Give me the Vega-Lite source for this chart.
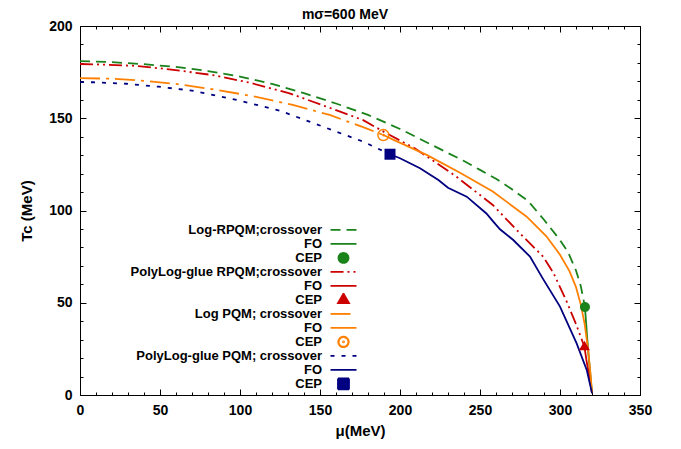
{
  "$schema": "https://vega.github.io/schema/vega-lite/v6.json",
  "width": 560,
  "height": 369,
  "autosize": "none",
  "padding": {"left": 80, "top": 26, "right": 41, "bottom": 54},
  "background": "white",
  "title": {"text": "mσ=600 MeV", "font": "Liberation Sans", "fontSize": 14, "fontWeight": "bold", "color": "black", "offset": -3, "dx": -15},
  "config": {
    "view": {"stroke": null},
    "axis": {"grid": false, "domainColor": "black", "tickColor": "black", "labelColor": "black", "titleColor": "black", "labelFont": "Liberation Sans", "titleFont": "Liberation Sans", "labelFontSize": 14, "labelFontWeight": "bold", "titleFontSize": 15, "titleFontWeight": "bold", "labelFlush": false, "labelOverlap": false, "labelBound": false, "tickWidth": 1, "domainWidth": 1}
  },
  "datasets": {
    "cross": [
      {"series": "Log-RPQM;crossover", "mu": 0, "T": 181.0},
      {"series": "Log-RPQM;crossover", "mu": 20, "T": 180.4},
      {"series": "Log-RPQM;crossover", "mu": 40, "T": 179.3},
      {"series": "Log-RPQM;crossover", "mu": 60, "T": 177.8},
      {"series": "Log-RPQM;crossover", "mu": 80, "T": 175.6},
      {"series": "Log-RPQM;crossover", "mu": 100, "T": 172.6},
      {"series": "Log-RPQM;crossover", "mu": 120, "T": 168.6},
      {"series": "Log-RPQM;crossover", "mu": 140, "T": 163.6},
      {"series": "Log-RPQM;crossover", "mu": 160, "T": 158.0},
      {"series": "Log-RPQM;crossover", "mu": 180, "T": 151.8},
      {"series": "Log-RPQM;crossover", "mu": 200, "T": 144.2},
      {"series": "Log-RPQM;crossover", "mu": 220, "T": 135.5},
      {"series": "Log-RPQM;crossover", "mu": 240, "T": 126.8},
      {"series": "Log-RPQM;crossover", "mu": 250, "T": 122.0},
      {"series": "Log-RPQM;crossover", "mu": 260, "T": 117.2},
      {"series": "Log-RPQM;crossover", "mu": 270, "T": 111.5},
      {"series": "Log-RPQM;crossover", "mu": 280, "T": 105.2},
      {"series": "Log-RPQM;crossover", "mu": 290, "T": 95.0},
      {"series": "Log-RPQM;crossover", "mu": 300, "T": 84.0},
      {"series": "Log-RPQM;crossover", "mu": 305, "T": 77.5},
      {"series": "Log-RPQM;crossover", "mu": 310, "T": 67.5},
      {"series": "Log-RPQM;crossover", "mu": 313, "T": 59.0},
      {"series": "Log-RPQM;crossover", "mu": 315.6, "T": 47.7},
      {"series": "PolyLog-glue RPQM;crossover", "mu": 0, "T": 179.4},
      {"series": "PolyLog-glue RPQM;crossover", "mu": 10, "T": 179.2},
      {"series": "PolyLog-glue RPQM;crossover", "mu": 35, "T": 178.4},
      {"series": "PolyLog-glue RPQM;crossover", "mu": 57, "T": 176.4},
      {"series": "PolyLog-glue RPQM;crossover", "mu": 83, "T": 173.4},
      {"series": "PolyLog-glue RPQM;crossover", "mu": 106, "T": 169.3},
      {"series": "PolyLog-glue RPQM;crossover", "mu": 131, "T": 163.5},
      {"series": "PolyLog-glue RPQM;crossover", "mu": 154, "T": 156.3},
      {"series": "PolyLog-glue RPQM;crossover", "mu": 177, "T": 149.0},
      {"series": "PolyLog-glue RPQM;crossover", "mu": 190, "T": 142.6},
      {"series": "PolyLog-glue RPQM;crossover", "mu": 209, "T": 133.8},
      {"series": "PolyLog-glue RPQM;crossover", "mu": 219, "T": 128.0},
      {"series": "PolyLog-glue RPQM;crossover", "mu": 235, "T": 118.5},
      {"series": "PolyLog-glue RPQM;crossover", "mu": 258, "T": 103.0},
      {"series": "PolyLog-glue RPQM;crossover", "mu": 275, "T": 87.6},
      {"series": "PolyLog-glue RPQM;crossover", "mu": 289.5, "T": 75.0},
      {"series": "PolyLog-glue RPQM;crossover", "mu": 296, "T": 66.0},
      {"series": "PolyLog-glue RPQM;crossover", "mu": 304, "T": 51.0},
      {"series": "PolyLog-glue RPQM;crossover", "mu": 310, "T": 38.5},
      {"series": "PolyLog-glue RPQM;crossover", "mu": 315.3, "T": 26.0},
      {"series": "Log PQM; crossover", "mu": 0, "T": 171.8},
      {"series": "Log PQM; crossover", "mu": 20, "T": 171.4},
      {"series": "Log PQM; crossover", "mu": 40, "T": 170.3},
      {"series": "Log PQM; crossover", "mu": 60, "T": 168.6},
      {"series": "Log PQM; crossover", "mu": 85, "T": 165.4},
      {"series": "Log PQM; crossover", "mu": 108, "T": 162.0},
      {"series": "Log PQM; crossover", "mu": 133, "T": 157.2},
      {"series": "Log PQM; crossover", "mu": 156, "T": 151.8},
      {"series": "Log PQM; crossover", "mu": 179, "T": 144.5},
      {"series": "Log PQM; crossover", "mu": 189.6, "T": 140.9},
      {"series": "PolyLog-glue PQM; crossover", "mu": 0, "T": 169.6},
      {"series": "PolyLog-glue PQM; crossover", "mu": 8, "T": 169.5},
      {"series": "PolyLog-glue PQM; crossover", "mu": 29, "T": 168.7},
      {"series": "PolyLog-glue PQM; crossover", "mu": 49, "T": 167.1},
      {"series": "PolyLog-glue PQM; crossover", "mu": 70, "T": 165.0},
      {"series": "PolyLog-glue PQM; crossover", "mu": 98, "T": 159.9},
      {"series": "PolyLog-glue PQM; crossover", "mu": 125, "T": 154.1},
      {"series": "PolyLog-glue PQM; crossover", "mu": 152, "T": 145.4},
      {"series": "PolyLog-glue PQM; crossover", "mu": 177, "T": 137.3},
      {"series": "PolyLog-glue PQM; crossover", "mu": 193.75, "T": 130.5}
    ],
    "fo": [
      {"series": "Log-RPQM FO", "mu": 315.6, "T": 47.7},
      {"series": "Log-RPQM FO", "mu": 316.8, "T": 33.0},
      {"series": "Log-RPQM FO", "mu": 318, "T": 20.0},
      {"series": "Log-RPQM FO", "mu": 319.2, "T": 9.0},
      {"series": "Log-RPQM FO", "mu": 320, "T": 1.0},
      {"series": "PolyLog-glue RPQM FO", "mu": 315.3, "T": 26.0},
      {"series": "PolyLog-glue RPQM FO", "mu": 316.7, "T": 18.0},
      {"series": "PolyLog-glue RPQM FO", "mu": 318.5, "T": 9.0},
      {"series": "PolyLog-glue RPQM FO", "mu": 320, "T": 1.0},
      {"series": "Log PQM FO", "mu": 189.6, "T": 140.9},
      {"series": "Log PQM FO", "mu": 196, "T": 138.3},
      {"series": "Log PQM FO", "mu": 217, "T": 130.0},
      {"series": "Log PQM FO", "mu": 237.5, "T": 120.5},
      {"series": "Log PQM FO", "mu": 258, "T": 110.3},
      {"series": "Log PQM FO", "mu": 279, "T": 96.8},
      {"series": "Log PQM FO", "mu": 291.5, "T": 86.0},
      {"series": "Log PQM FO", "mu": 300, "T": 76.0},
      {"series": "Log PQM FO", "mu": 306, "T": 67.0},
      {"series": "Log PQM FO", "mu": 310, "T": 58.5},
      {"series": "Log PQM FO", "mu": 313, "T": 49.0},
      {"series": "Log PQM FO", "mu": 315.5, "T": 38.0},
      {"series": "Log PQM FO", "mu": 317.5, "T": 25.0},
      {"series": "Log PQM FO", "mu": 319, "T": 12.0},
      {"series": "Log PQM FO", "mu": 320, "T": 1.0},
      {"series": "PolyLog-glue PQM FO", "mu": 193.75, "T": 130.5},
      {"series": "PolyLog-glue PQM FO", "mu": 200, "T": 128.3},
      {"series": "PolyLog-glue PQM FO", "mu": 212.5, "T": 122.9},
      {"series": "PolyLog-glue PQM FO", "mu": 224, "T": 116.5},
      {"series": "PolyLog-glue PQM FO", "mu": 230, "T": 112.3},
      {"series": "PolyLog-glue PQM FO", "mu": 241.7, "T": 107.5},
      {"series": "PolyLog-glue PQM FO", "mu": 254, "T": 98.4},
      {"series": "PolyLog-glue PQM FO", "mu": 258.3, "T": 94.0},
      {"series": "PolyLog-glue PQM FO", "mu": 262.5, "T": 89.8},
      {"series": "PolyLog-glue PQM FO", "mu": 270.8, "T": 84.0},
      {"series": "PolyLog-glue PQM FO", "mu": 281.25, "T": 75.0},
      {"series": "PolyLog-glue PQM FO", "mu": 289, "T": 63.5},
      {"series": "PolyLog-glue PQM FO", "mu": 300, "T": 47.9},
      {"series": "PolyLog-glue PQM FO", "mu": 310.4, "T": 28.0},
      {"series": "PolyLog-glue PQM FO", "mu": 316.7, "T": 13.6},
      {"series": "PolyLog-glue PQM FO", "mu": 320, "T": 1.0}
    ],
    "cep": [
      {"series": "Log-RPQM CEP", "mu": 315.6, "T": 47.7},
      {"series": "PolyLog-glue RPQM CEP", "mu": 315.3, "T": 26.0},
      {"series": "Log PQM CEP", "mu": 189.6, "T": 140.9},
      {"series": "PolyLog-glue PQM CEP", "mu": 193.75, "T": 130.5}
    ]
  },
  "resolve": {"axis": {"x": "independent", "y": "independent"}},
  "layer": [
    {
      "data": {"name": "cross"},
      "mark": {"type": "line", "strokeWidth": 1.8},
      "encoding": {
        "x": {"field": "mu", "type": "quantitative", "scale": {"domain": [0, 350], "nice": false, "zero": false},
          "axis": {"orient": "bottom", "values": [0, 50, 100, 150, 200, 250, 300, 350], "tickSize": -6, "labelPadding": 14, "title": "μ(MeV)", "titlePadding": 6}},
        "y": {"field": "T", "type": "quantitative", "scale": {"domain": [0, 200], "nice": false},
          "axis": {"orient": "left", "values": [0, 50, 100, 150, 200], "tickSize": -6, "labelPadding": 14, "title": "Tc (MeV)", "titlePadding": 14}},
        "color": {"field": "series", "type": "nominal",
          "scale": {
            "domain": ["Log-RPQM;crossover", "Log-RPQM FO", "Log-RPQM CEP", "PolyLog-glue RPQM;crossover", "PolyLog-glue RPQM FO", "PolyLog-glue RPQM CEP", "Log PQM; crossover", "Log PQM FO", "Log PQM CEP", "PolyLog-glue PQM; crossover", "PolyLog-glue PQM FO", "PolyLog-glue PQM CEP"],
            "range": ["#1a821a", "#1a821a", "#1a821a", "#cc0000", "#cc0000", "#cc0000", "#ff8000", "#ff8000", "#ff8000", "#000080", "#000080", "#000080"]
          },
          "legend": {
            "title": null, "orient": "none", "legendX": 32, "legendY": 197, "padding": 0,
            "labelAlign": "right", "labelOffset": -28, "symbolOffset": 225, "symbolSize": 121, "symbolStrokeWidth": 1.8,
            "labelFont": "Liberation Sans", "labelFontSize": 13, "labelFontWeight": "bold", "labelColor": "black", "labelLimit": 400,
            "clipHeight": 13.85, "rowPadding": 0,
            "labelExpr": "indexof(datum.label, ' FO') >= 0 ? 'FO' : (indexof(datum.label, ' CEP') >= 0 ? 'CEP' : datum.label)",
            "encode": {
              "entries": {
                "update": {"width": {"value": 260}, "height": {"value": 13.85}}
              },
              "symbols": {
                "update": {
                  "shape": {"signal": "datum.value == 'Log PQM CEP' ? 'M0.95,0A0.95,0.95,0,1,1,-0.95,0A0.95,0.95,0,1,1,0.95,0Z M0.88,0A0.88,0.88,0,1,0,-0.88,0A0.88,0.88,0,1,0,0.88,0Z M0.09,0A0.09,0.09,0,1,1,-0.09,0A0.09,0.09,0,1,1,0.09,0Z' : (indexof(datum.value, 'CEP') >= 0 ? scale('shape', datum.value) : 'M-2.36,0H2.36')"},
                  "strokeDash": {"signal": "indexof(datum.value, 'crossover') >= 0 ? scale('strokeDash', datum.value) : [1, 0]"},
                  "opacity": {"value": 1}
                }
              }
            }
          }
        },
        "strokeDash": {"field": "series", "type": "nominal",
          "scale": {"domain": ["Log-RPQM;crossover", "PolyLog-glue RPQM;crossover", "Log PQM; crossover", "PolyLog-glue PQM; crossover"],
            "range": [[10, 6], [13, 4, 2, 4, 2, 4], [20, 6, 3, 6], [4, 7]]},
          "legend": null}
      }
    },
    {
      "data": {"name": "fo"},
      "mark": {"type": "line", "strokeWidth": 1.8},
      "encoding": {
        "x": {"field": "mu", "type": "quantitative",
          "axis": {"orient": "top", "values": [0, 50, 100, 150, 200, 250, 300, 350], "tickSize": -6, "labels": false, "title": null}},
        "y": {"field": "T", "type": "quantitative",
          "axis": {"orient": "right", "values": [0, 50, 100, 150, 200], "tickSize": -6, "labels": false, "title": null}},
        "color": {"field": "series", "type": "nominal"}
      }
    },
    {
      "data": {"name": "cep"},
      "transform": [{"filter": "datum.series != 'Log PQM CEP'"}],
      "mark": {"type": "point", "filled": true, "size": 121, "opacity": 1, "strokeWidth": 0},
      "encoding": {
        "x": {"field": "mu", "type": "quantitative",
          "axis": {"orient": "bottom", "values": [0, 10, 20, 30, 40, 60, 70, 80, 90, 110, 120, 130, 140, 160, 170, 180, 190, 210, 220, 230, 240, 260, 270, 280, 290, 310, 320, 330, 340], "tickSize": -3, "labels": false, "domain": false, "title": null}},
        "y": {"field": "T", "type": "quantitative",
          "axis": {"orient": "left", "values": [10, 20, 30, 40, 60, 70, 80, 90, 110, 120, 130, 140, 160, 170, 180, 190], "tickSize": -3, "labels": false, "domain": false, "title": null}},
        "color": {"field": "series", "type": "nominal"},
        "shape": {"field": "series", "type": "nominal",
          "scale": {"domain": ["Log-RPQM CEP", "PolyLog-glue RPQM CEP", "Log PQM CEP", "PolyLog-glue PQM CEP"],
            "range": ["M0.91,0A0.91,0.91,0,1,1,-0.91,0A0.91,0.91,0,1,1,0.91,0Z", "M0,-1.15L1,0.58L-1,0.58Z", "M1,0A1,1,0,1,1,-1,0A1,1,0,1,1,1,0Z M0.12,0A0.12,0.12,0,1,1,-0.12,0A0.12,0.12,0,1,1,0.12,0Z", "M-1,-1H1V1H-1Z"]},
          "legend": null}
      }
    },
    {
      "data": {"name": "cep"},
      "transform": [{"filter": "datum.series == 'Log PQM CEP'"}],
      "mark": {"type": "point", "filled": false, "size": 121, "opacity": 1, "strokeWidth": 1.4},
      "encoding": {
        "x": {"field": "mu", "type": "quantitative",
          "axis": {"orient": "top", "values": [0, 10, 20, 30, 40, 60, 70, 80, 90, 110, 120, 130, 140, 160, 170, 180, 190, 210, 220, 230, 240, 260, 270, 280, 290, 310, 320, 330, 340], "tickSize": -3, "labels": false, "domain": false, "title": null}},
        "y": {"field": "T", "type": "quantitative",
          "axis": {"orient": "right", "values": [10, 20, 30, 40, 60, 70, 80, 90, 110, 120, 130, 140, 160, 170, 180, 190], "tickSize": -3, "labels": false, "domain": false, "title": null}},
        "color": {"field": "series", "type": "nominal"},
        "shape": {"field": "series", "type": "nominal", "legend": null}
      }
    }
  ]
}
